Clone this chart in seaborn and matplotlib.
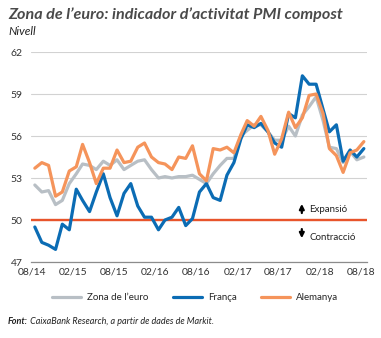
import matplotlib
matplotlib.use("Agg")
import matplotlib.pyplot as plt
import matplotlib.dates as mdates
import seaborn as sns
import pandas as pd
import numpy as np

# ---------------- data ----------------
months = pd.date_range("2014-08-01", "2018-08-01", freq="MS")
euro = [52.5, 52.0, 52.1, 51.1, 51.4,
        52.6, 53.3, 54.0, 53.9, 53.6, 54.2, 53.9, 54.3, 53.6, 53.9, 54.2, 54.3,
        53.6, 53.0, 53.1, 53.0, 53.1, 53.1, 53.2, 52.9, 52.6, 53.3, 53.9, 54.4,
        54.4, 56.0, 56.4, 56.8, 56.8, 56.3, 55.7, 55.7, 56.7, 56.0, 57.5, 58.1,
        58.8, 57.1, 55.2, 55.1, 54.1, 54.9, 54.3, 54.5]
france = [49.5, 48.4, 48.2, 47.9, 49.7,
          49.3, 52.2, 51.4, 50.6, 52.0, 53.3, 51.6, 50.3, 51.9, 52.6, 51.0, 50.2,
          50.2, 49.3, 50.0, 50.2, 50.9, 49.6, 50.1, 52.0, 52.6, 51.6, 51.4, 53.2,
          54.1, 55.8, 56.8, 56.6, 56.9, 56.3, 55.5, 55.2, 57.6, 57.3, 60.3, 59.7,
          59.7, 57.9, 56.3, 56.8, 54.2, 55.0, 54.5, 55.1]
germany = [53.7, 54.1, 53.9, 51.7, 52.0,
           53.5, 53.8, 55.4, 54.1, 52.6, 53.7, 53.7, 55.0, 54.1, 54.2, 55.2, 55.5,
           54.5, 54.1, 54.0, 53.6, 54.5, 54.4, 55.3, 53.3, 52.8, 55.1, 55.0, 55.2,
           54.8, 56.1, 57.1, 56.7, 57.4, 56.4, 54.7, 55.8, 57.7, 56.6, 57.3, 58.9,
           59.0, 57.6, 55.1, 54.6, 53.4, 54.8, 55.0, 55.6]
series_names = ["Zona de l\u2019euro", "Fran\u00e7a", "Alemanya"]
colors = ["#b8bfc5", "#0b6cb4", "#f5945b"]
yticks = [47, 50, 53, 56, 59, 62]
xtick_dates = pd.date_range("2014-08-01", "2018-08-01", freq="6MS")
threshold = 50

title = "Zona de l\u2019euro: indicador d\u2019activitat PMI compost"
subtitle = "Nivell"
source_bold = "Font:"
source_rest = " CaixaBank Research, a partir de dades de Markit."

# ---------------- data frame ----------------
dates_mid = months + pd.Timedelta(days=14)
df = pd.DataFrame({
    "date": np.tile(dates_mid.values, 3),
    "value": euro + france + germany,
    "serie": np.repeat(series_names, len(months)),
})

sns.set_style("white")
plt.rcParams["font.family"] = ["Lato", "DejaVu Sans"]

fig = plt.figure(figsize=(3.81, 3.38), dpi=100)
ax = fig.add_axes([31 / 381, 1 - 262 / 338, 336 / 381, 210 / 338])

ax.axhline(threshold, color="#e8542b", lw=1.7, zorder=1)
sns.lineplot(data=df, x="date", y="value", hue="serie", hue_order=series_names,
             palette=colors, lw=2.3, ax=ax, zorder=2)

ax.set_ylim(47, 62)
ax.set_xlim(pd.Timestamp("2014-07-29"), pd.Timestamp("2018-08-29"))
ax.set_yticks(yticks)
ax.set_xticks(xtick_dates)
ax.xaxis.set_major_formatter(mdates.DateFormatter("%m/%y"))
ax.set_xlabel("")
ax.set_ylabel("")
ax.grid(axis="y", color="#d2d2d2", lw=0.8)
ax.set_axisbelow(True)
for s in ["top", "right", "left"]:
    ax.spines[s].set_visible(False)
ax.spines["bottom"].set_color("#8c8c8c")
ax.spines["bottom"].set_linewidth(0.9)
ax.tick_params(axis="y", length=0, pad=6, labelsize=7.5, labelcolor="#333333")
ax.tick_params(axis="x", direction="in", length=3, width=0.8, color="#8c8c8c",
               pad=4, labelsize=7.5, labelcolor="#333333")

# Legend
sns.move_legend(ax, "center", bbox_to_anchor=(0.512, 1 - 298 / 338),
                bbox_transform=fig.transFigure, ncol=3, frameon=False,
                title=None, fontsize=7, handlelength=3.0, handletextpad=0.6,
                columnspacing=2.5)
for line in ax.get_legend().get_lines():
    line.set_linewidth(2.3)

# Expansion / contraction annotations
ax.annotate("", xy=(0.806, 51.35), xytext=(0.806, 50.3),
            xycoords=("axes fraction", "data"), textcoords=("axes fraction", "data"),
            arrowprops=dict(arrowstyle="-|>", color="black", lw=1.6, mutation_scale=7))
ax.annotate("", xy=(0.806, 48.5), xytext=(0.806, 49.55),
            xycoords=("axes fraction", "data"), textcoords=("axes fraction", "data"),
            arrowprops=dict(arrowstyle="-|>", color="black", lw=1.6, mutation_scale=7))
ax.text(0.829, 50.75, "Expansi\u00f3", transform=ax.get_yaxis_transform(),
        fontsize=7, va="center", ha="left", color="#222222")
ax.text(0.829, 48.75, "Contracci\u00f3", transform=ax.get_yaxis_transform(),
        fontsize=7, va="center", ha="left", color="#222222")

# Titles
fig.text(8 / 381, 1 - 19 / 338, title, fontsize=11.6, fontweight="bold",
         style="italic", color="#4a4a4a", va="baseline", ha="left")
fig.text(8 / 381, 1 - 35 / 338, subtitle, fontsize=8.5, style="italic",
         color="#222222", va="baseline", ha="left")

# Source
t1 = fig.text(8 / 381, 1 - 324 / 338, source_bold, fontsize=6.5, fontweight="bold",
              style="italic", color="#222222", va="baseline", ha="left")
fig.canvas.draw()
bb = t1.get_window_extent(renderer=fig.canvas.get_renderer())
fig.text(bb.x1 / fig.bbox.width, 1 - 324 / 338, source_rest, fontsize=6.5,
         style="italic", color="#222222", va="baseline", ha="left")

fig.savefig("out.png", dpi=100)
